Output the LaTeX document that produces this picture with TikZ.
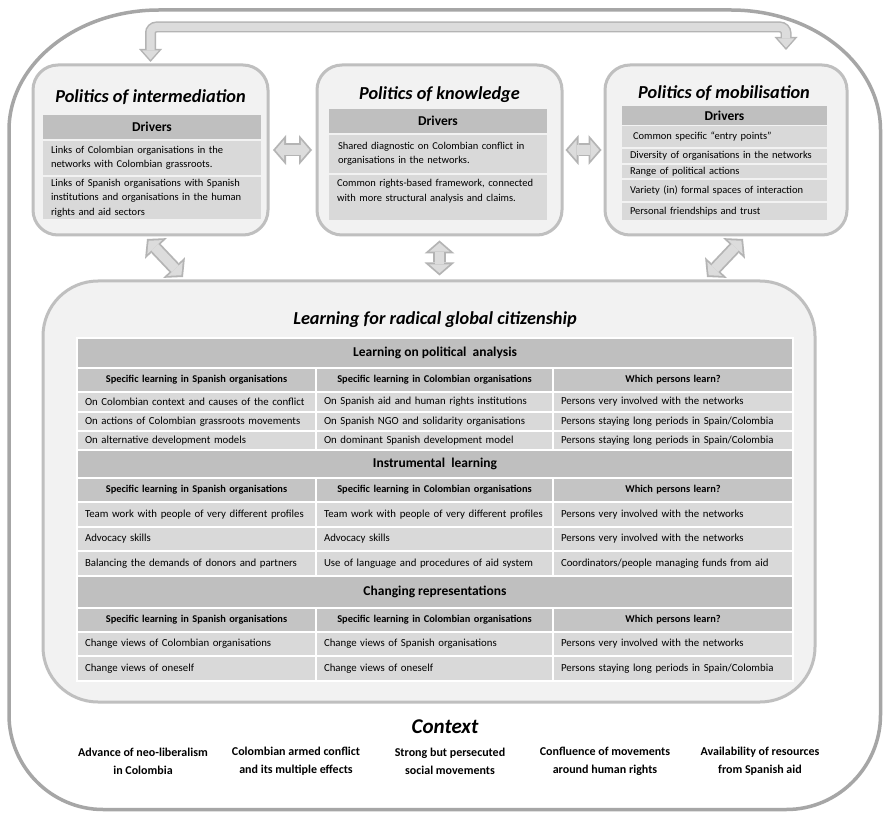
\documentclass[tikz,border=0pt]{standalone}
\usepackage{fontspec}
\setmainfont{Carlito}
\usetikzlibrary{arrows.meta}

\definecolor{framecol}{HTML}{A6A6A6}
\definecolor{boxline}{HTML}{BFBFBF}
\definecolor{boxfill}{HTML}{F2F2F2}
\definecolor{headfill}{HTML}{BFBFBF}
\definecolor{subfill}{HTML}{C4C4C4}
\definecolor{cellfill}{HTML}{D9D9D9}
\definecolor{arrowfill}{HTML}{DCDCDC}
\definecolor{arrowline}{HTML}{B4B4B4}

% one row of the three-column learning table: name, y, height, style, three texts
\newcommand{\tabrow}[7]{%
  \node[#4, minimum width=239pt, text width=223pt, minimum height=#3pt] (#1a) at (196.5,#2) {\mbox{#5}};
  \node[#4, minimum width=237pt, text width=221pt, minimum height=#3pt] (#1b) at (434.5,#2) {\mbox{#6}};
  \node[#4, minimum width=240pt, text width=224pt, minimum height=#3pt] (#1c) at (673,#2) {\mbox{#7}};
}

\begin{document}
\begin{tikzpicture}[x=1pt,y=-1pt,
  panel/.style={draw=boxline, line width=3pt, fill=boxfill, rounded corners=25pt, inner sep=0pt},
  ptitle/.style={font=\bfseries\itshape\fontsize{18.3}{20}\selectfont, inner sep=0pt},
  dhead/.style={fill=headfill, inner sep=0pt, font=\bfseries\fontsize{13.5}{15}\selectfont},
  drow/.style={fill=cellfill, inner xsep=8pt, inner ysep=0pt, align=left,
    font=\fontsize{10.5}{14.5}\selectfont},
  thead/.style={fill=headfill, draw=white, line width=1.5pt, inner sep=0pt,
    minimum width=716pt, font=\bfseries\fontsize{13.5}{15}\selectfont},
  tsub/.style={fill=subfill, draw=white, line width=1.5pt, inner xsep=8pt, inner ysep=0pt,
    align=center, font=\bfseries\fontsize{10.4}{12}\selectfont},
  tcell/.style={fill=cellfill, draw=white, line width=1.5pt, inner xsep=8pt, inner ysep=0pt,
    align=left, font=\fontsize{10.8}{12}\selectfont},
  clabel/.style={align=center, inner sep=0pt, font=\bfseries\fontsize{12}{18}\selectfont},
  blkout/.style={draw=arrowline, line width=13pt,
    {Triangle[width=30pt,length=13pt,line width=0pt]}-{Triangle[width=30pt,length=13pt,line width=0pt]}},
  blkin/.style={draw=arrowfill, line width=9.4pt,
    {Triangle[width=20.35pt,length=8.82pt,line width=0pt]}-{Triangle[width=20.35pt,length=8.82pt,line width=0pt]}},
  fbout/.style={draw=arrowline, line width=11pt, rounded corners=6pt,
    {Triangle[width=23pt,length=13pt,line width=0pt]}-{Triangle[width=23pt,length=13pt,line width=0pt]}},
  fbin/.style={draw=arrowfill, line width=8pt, rounded corners=6pt,
    {Triangle[width=16.35pt,length=9.24pt,line width=0pt]}-{Triangle[width=16.35pt,length=9.24pt,line width=0pt]}}
]
\useasboundingbox (0,0) rectangle (884,813);
\fill[white] (0,0) rectangle (884,813);

% outer context frame
\draw[framecol, line width=3.5pt]
  (9,130) .. controls (9,64) and (76.5,10) .. (159,10) -- (731,10)
  .. controls (813.5,10) and (880.5,64) .. (880.5,130) -- (880.5,715)
  .. controls (880.5,766.7) and (838.2,809.5) .. (786.5,809.5) -- (103,809.5)
  .. controls (51.3,809.5) and (9,766.7) .. (9,715) -- cycle;

% the three politics panels and the learning panel
\node[panel, minimum width=235pt, minimum height=170pt] (inter) at (150.5,150) {};
\node[panel, minimum width=245pt, minimum height=170pt] (know) at (439.5,150) {};
\node[panel, minimum width=242pt, minimum height=170pt] (mobil) at (726,150) {};
\node[panel, rounded corners=55pt, minimum width=772pt, minimum height=421pt] (learn) at (429,491.5) {};

% feedback arrow over the top
\coordinate (fbtop) at (468,27);
\coordinate (fbend) at (786,50);
\draw[fbout, shorten <=1.5pt] (inter.north) |- (fbtop) -| (fbend);
\draw[fbin, shorten <=3.76pt, shorten >=2.26pt] (inter.north) |- (fbtop) -| (fbend);

% two-way arrows between the panels
\draw[blkout, shorten <=3.5pt, shorten >=3.5pt] (inter.east) -- (know.west);
\draw[blkin, shorten <=5.88pt, shorten >=5.88pt] (inter.east) -- (know.west);
\draw[blkout, shorten <=2pt, shorten >=2pt] (know.east) -- (mobil.west);
\draw[blkin, shorten <=4.38pt, shorten >=4.38pt] (know.east) -- (mobil.west);
\draw[blkout, shorten <=4pt, shorten >=4pt] (know.south) -- (know.south |- learn.north);
\draw[blkin, shorten <=6.38pt, shorten >=6.38pt] (know.south) -- (know.south |- learn.north);
\coordinate (d1a) at (147,239);
\coordinate (d1b) at (183,277);
\coordinate (d3a) at (743,239);
\coordinate (d3b) at (707,277);
\draw[blkout] (d1a) -- (d1b);
\draw[blkin, shorten <=2.38pt, shorten >=2.38pt] (d1a) -- (d1b);
\draw[blkout] (d3a) -- (d3b);
\draw[blkin, shorten <=2.38pt, shorten >=2.38pt] (d3a) -- (d3b);

% Politics of intermediation
\node[ptitle] (intertitle) at (150.5,97) {Politics of intermediation};
\node[dhead, minimum width=218pt, minimum height=24pt] (interdrv) at (152,127) {Drivers};
\node[drow, text width=202pt, minimum height=34pt] (inter1) at (152,158)
  {Links of Colombian organisations in the\\networks with Colombian grassroots.};
\node[drow, text width=202pt, minimum height=42pt] (inter2) at (152,198)
  {Links of Spanish organisations with Spanish\\institutions and organisations in the human\\rights and aid sectors};

% Politics of knowledge
\node[ptitle] (knowtitle) at (439.5,95) {Politics of knowledge};
\node[dhead, minimum width=218pt, minimum height=24pt] (knowdrv) at (438,121) {Drivers};
\node[drow, text width=200pt, inner xsep=9pt, minimum height=38pt] (know1) at (438,154)
  {Shared diagnostic on Colombian conflict in\\organisations in the networks.};
\node[drow, text width=202pt, minimum height=45pt] (know2) at (438,197.5)
  {Common rights-based framework, connected\\with more structural analysis and claims.\\\mbox{}};

% Politics of mobilisation
\node[ptitle] (mobiltitle) at (724,93) {Politics of mobilisation};
\node[dhead, minimum width=205pt, minimum height=19pt] (mobildrv) at (724.5,115.5) {Drivers};
\node[drow, text width=189pt, minimum height=21pt] (mobil1) at (724.5,136.5) {\hspace{3pt}Common specific “entry points”};
\node[drow, text width=189pt, minimum height=14pt] (mobil2) at (724.5,156) {Diversity of organisations in the networks};
\node[drow, text width=189pt, minimum height=13pt] (mobil3) at (724.5,171.5) {Range of political actions};
\node[drow, text width=189pt, minimum height=21pt] (mobil4) at (724.5,190.5) {Variety (in) formal spaces of interaction};
\node[drow, text width=189pt, minimum height=17pt] (mobil5) at (724.5,211.5) {Personal friendships and trust};

% Learning for radical global citizenship
\node[ptitle] (learntitle) at (435,320) {Learning for radical global citizenship};

\node[thead, minimum height=30pt] (h1) at (435,353) {Learning on political\ \ analysis};
\tabrow{s1}{380}{24}{tsub}{Specific learning in Spanish organisations}{Specific learning in Colombian organisations}{Which persons learn?}
\tabrow{r1}{402}{20}{tcell}{On Colombian context and causes of the conflict}{On Spanish aid and human rights institutions}{Persons very involved with the networks}
\tabrow{r2}{421.5}{19}{tcell}{On actions of Colombian grassroots movements}{On Spanish NGO and solidarity organisations}{Persons staying long periods in Spain/Colombia}
\tabrow{r3}{440.5}{19}{tcell}{On alternative development models}{On dominant Spanish development model}{Persons staying long periods in Spain/Colombia}

\node[thead, minimum height=28pt] (h2) at (435,464) {Instrumental\ \ learning};
\tabrow{s2}{490}{24}{tsub}{Specific learning in Spanish organisations}{Specific learning in Colombian organisations}{Which persons learn?}
\tabrow{r4}{514.5}{25}{tcell}{Team work with people of very different profiles}{Team work with people of very different profiles}{Persons very involved with the networks}
\tabrow{r5}{539}{24}{tcell}{Advocacy skills}{Advocacy skills}{Persons very involved with the networks}
\tabrow{r6}{563.5}{25}{tcell}{Balancing the demands of donors and partners}{Use of language and procedures of aid system}{Coordinators/people managing funds from aid}

\node[thead, minimum height=32pt] (h3) at (435,592) {Changing representations};
\tabrow{s3}{620}{24}{tsub}{Specific learning in Spanish organisations}{Specific learning in Colombian organisations}{Which persons learn?}
\tabrow{r7}{644}{24}{tcell}{Change views of Colombian organisations}{Change views of Spanish organisations}{Persons very involved with the networks}
\tabrow{r8}{668.5}{25}{tcell}{Change views of oneself}{Change views of oneself}{Persons staying long periods in Spain/Colombia}

% Context
\node[inner sep=0pt, font=\bfseries\itshape\fontsize{21}{24}\selectfont] (ctx) at (445,727) {Context};
\node[clabel] (ctx1) at (143,761) {Advance of neo-liberalism\\in Colombia};
\node[clabel] (ctx2) at (296,761) {Colombian armed conflict\\and its multiple effects};
\node[clabel] (ctx3) at (450,761) {Strong but persecuted\\social movements};
\node[clabel] (ctx4) at (605,761) {Confluence of movements\\around human rights};
\node[clabel] (ctx5) at (760,761) {Availability of resources\\from Spanish aid};
\end{tikzpicture}
\end{document}
